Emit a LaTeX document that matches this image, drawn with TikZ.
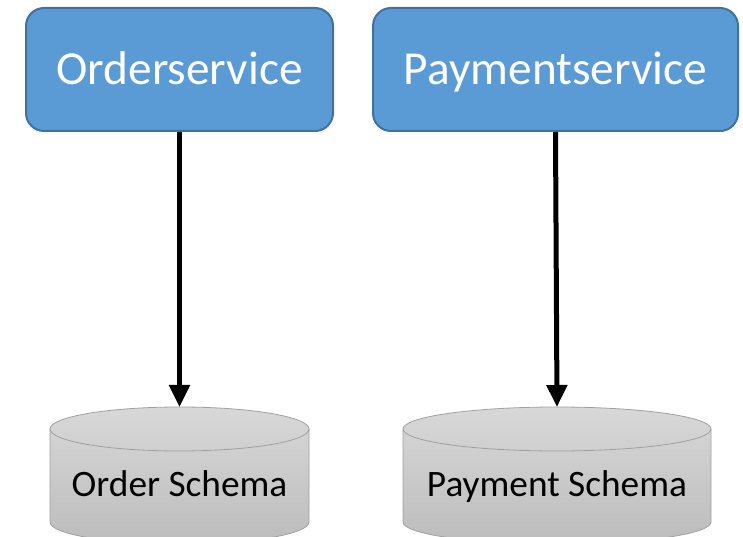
\documentclass[tikz,border=0pt]{standalone}
\usepackage{fontspec}
\setmainfont{Carlito}
\usetikzlibrary{arrows.meta}
\definecolor{boxfill}{HTML}{5B9BD5}
\definecolor{boxline}{HTML}{41719C}
\definecolor{cyltop}{HTML}{D8D8D8}
\definecolor{cylbot}{HTML}{BCBCBC}
\definecolor{cylline}{HTML}{A0A0A0}
\tikzset{
  service/.style={draw=boxline, line width=1.5pt, fill=boxfill, rounded corners=13.5pt,
    text=white, font=\fontsize{35.5}{40}\selectfont, minimum height=92.25pt, inner sep=0pt,
    text height=30pt, text depth=6.8pt},
  cyl/.style={draw=cylline, line width=0.6pt, top color=cyltop, bottom color=cylbot},
  cyltext/.style={text=black, font=\fontsize{28}{32}\selectfont, inner sep=0pt, anchor=base},
  link/.style={line width=3.75pt, -{Triangle[length=16.5pt,width=15pt]}}
}
\begin{document}
\begin{tikzpicture}[x=0.75pt,y=0.75pt]
\useasboundingbox (0,0) rectangle (743,536);
\clip (0,0) rectangle (743,536);
% service boxes
\node[service, minimum width=230.25pt] (os) at (179.5,466.5) {Orderservice};
\node[service, minimum width=273.75pt] (ps) at (555.5,466.5) {Paymentservice};
% cylinders
\draw[cyl] (50,107) -- (50,14) arc[start angle=180,end angle=360,x radius=97.125pt,y radius=16.5pt]
  -- (309,107) arc[start angle=0,end angle=180,x radius=97.125pt,y radius=16.5pt] -- cycle;
\draw[cylline, line width=0.6pt] (50,107) arc[start angle=180,end angle=360,x radius=97.125pt,y radius=16.5pt];
\coordinate (oc) at (179.5,129);
\draw[cyl] (403,107) -- (403,14) arc[start angle=180,end angle=360,x radius=115.5pt,y radius=16.5pt]
  -- (711,107) arc[start angle=0,end angle=180,x radius=115.5pt,y radius=16.5pt] -- cycle;
\draw[cylline, line width=0.6pt] (403,107) arc[start angle=180,end angle=360,x radius=115.5pt,y radius=16.5pt];
\coordinate (pc) at (557,129);
\node[cyltext] (ot) at (179.5,40) {Order Schema};
\node[cyltext] (pt) at (557,40) {Payment Schema};
% connectors
\draw[link] (os.south -| oc) -- (oc);
\draw[link] (ps.south) -- (pc);
\end{tikzpicture}
\end{document}
